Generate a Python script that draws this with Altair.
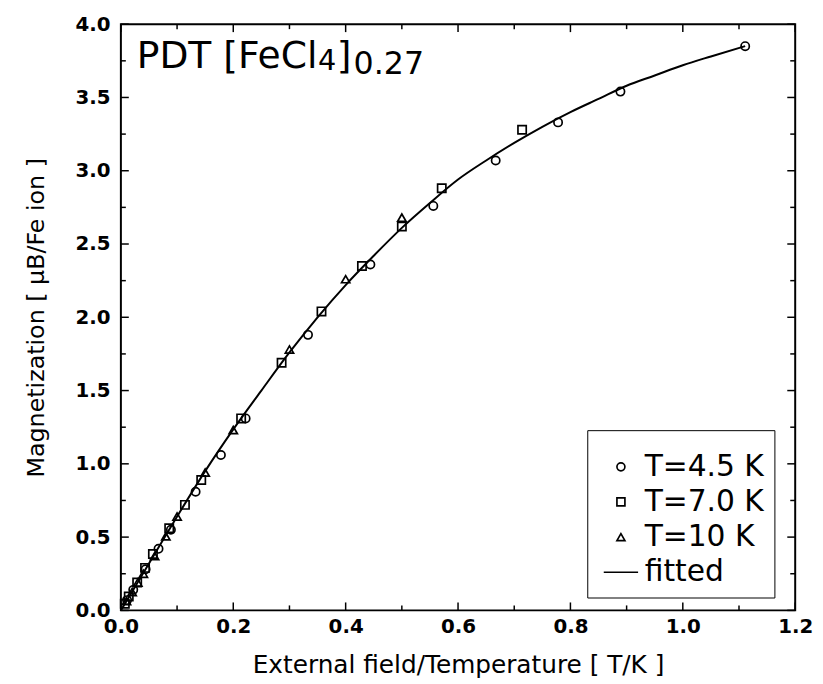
import altair as alt
import pandas as pd

# ---------------- data ----------------
series_names = ["T=4.5 K", "T=7.0 K", "T=10 K", "fitted"]

t45_x = [0.011, 0.022, 0.044, 0.067, 0.089, 0.133, 0.178, 0.222, 0.333, 0.444, 0.556, 0.667, 0.778, 0.889, 1.111]
t45_y = [0.07, 0.14, 0.28, 0.42, 0.55, 0.81, 1.06, 1.31, 1.88, 2.36, 2.76, 3.07, 3.33, 3.54, 3.85]

t70_x = [0.007, 0.014, 0.029, 0.043, 0.057, 0.086, 0.114, 0.143, 0.214, 0.286, 0.357, 0.429, 0.500, 0.571, 0.714]
t70_y = [0.045, 0.095, 0.19, 0.29, 0.385, 0.56, 0.72, 0.89, 1.31, 1.69, 2.04, 2.35, 2.62, 2.88, 3.28]

t10_x = [0.01, 0.02, 0.03, 0.04, 0.06, 0.08, 0.10, 0.15, 0.20, 0.30, 0.40, 0.50]
t10_y = [0.063, 0.125, 0.19, 0.25, 0.37, 0.505, 0.64, 0.94, 1.23, 1.78, 2.26, 2.68]

fit_x = [0.0, 0.05, 0.10, 0.15, 0.20, 0.25, 0.30, 0.35, 0.40, 0.45, 0.50, 0.55,
         0.60, 0.65, 0.70, 0.75, 0.80, 0.85, 0.90, 0.95, 1.00, 1.05, 1.111]
fit_y = [0.0, 0.32, 0.64, 0.95, 1.235, 1.50, 1.76, 2.00, 2.22, 2.42, 2.61, 2.78,
         2.94, 3.07, 3.19, 3.30, 3.40, 3.49, 3.58, 3.65, 3.72, 3.78, 3.85]

x_major = [0.0, 0.2, 0.4, 0.6, 0.8, 1.0, 1.2]
x_minor = [0.1, 0.3, 0.5, 0.7, 0.9, 1.1]
y_major = [0.0, 0.5, 1.0, 1.5, 2.0, 2.5, 3.0, 3.5, 4.0]
y_minor = [0.25, 0.75, 1.25, 1.75, 2.25, 2.75, 3.25, 3.75]

label_parts = ["PDT [FeCl", "4", "]", "0.27"]

# ---------------- build tables ----------------
pts = pd.DataFrame({
    "x": t45_x + t70_x + t10_x,
    "y": t45_y + t70_y + t10_y,
    "series": [series_names[0]] * len(t45_x) + [series_names[1]] * len(t70_x) + [series_names[2]] * len(t10_x),
})
curve = pd.DataFrame({"x": fit_x, "y": fit_y})

W, H = 681, 592
FONT = "DejaVu Sans"
xs = alt.Scale(domain=[0, 1.2], nice=False, zero=False)
ys = alt.Scale(domain=[0, 4.0], nice=False, zero=False)

XT = "External field/Temperature [ T/K ]"
YT = "Magnetization [ μB/Fe ion ]"

xaxis = alt.Axis(values=x_major, format=".1f", title=XT,
                 ticks=False, tickSize=0, domain=False, grid=False, labelFlush=False,
                 labelOverlap=False, labelFont=FONT, labelFontSize=20, labelFontWeight="bold",
                 labelColor="black", labelPadding=6, titleFont=FONT, titleFontSize=25,
                 titleFontWeight="normal", titleColor="black", titlePadding=17)
yaxis = alt.Axis(values=y_major, format=".1f", title=YT,
                 ticks=False, tickSize=0, domain=False, grid=False, labelFlush=False,
                 labelOverlap=False, labelFont=FONT, labelFontSize=20, labelFontWeight="bold",
                 labelColor="black", labelPadding=11, titleFont=FONT, titleFontSize=24,
                 titleFontWeight="normal", titleColor="black", titlePadding=27)

line = alt.Chart(curve).mark_line(color="black", strokeWidth=2, interpolate="monotone").encode(
    x=alt.X("x:Q", scale=xs, axis=xaxis, title=XT),
    y=alt.Y("y:Q", scale=ys, axis=yaxis, title=YT),
)

legend = alt.Legend(orient="none", legendX=471, legendY=410, title=" ", titleFontSize=8,
                    titlePadding=4, strokeColor="black", padding=10, fillColor="white",
                    labelFont=FONT, labelFontSize=30, labelColor="black", labelOffset=9,
                    symbolSize=65, symbolOffset=9, symbolStrokeColor="black",
                    symbolStrokeWidth=1.7, rowPadding=5.5, labelLimit=300)

points = alt.Chart(pts).mark_point(filled=False, color="black", strokeWidth=1.7, size=70, opacity=1).encode(
    x=alt.X("x:Q", scale=xs, axis=xaxis, title=XT),
    y=alt.Y("y:Q", scale=ys, axis=yaxis, title=YT),
    shape=alt.Shape("series:N", scale=alt.Scale(domain=series_names,
                    range=["circle", "square", "triangle-up", "M-4.3,0H4.3"]), legend=legend),
)


def xticks(vals, length):
    d = pd.DataFrame({"v": vals})
    base = alt.Chart(d).mark_rule(color="black", strokeWidth=1.5)
    enc = alt.X("v:Q", scale=xs, axis=xaxis, title=XT)
    bot = base.encode(x=enc, y=alt.value(H), y2=alt.value(H - length))
    top = base.encode(x=enc, y=alt.value(0), y2=alt.value(length))
    return [bot, top]


def yticks(vals, length):
    d = pd.DataFrame({"v": vals})
    base = alt.Chart(d).mark_rule(color="black", strokeWidth=1.5)
    enc = alt.Y("v:Q", scale=ys, axis=yaxis, title=YT)
    left = base.encode(y=enc, x=alt.value(0), x2=alt.value(length))
    right = base.encode(y=enc, x=alt.value(W), x2=alt.value(W - length))
    return [left, right]


tick_layers = xticks(x_major, 8) + xticks(x_minor, 5) + yticks(y_major, 8) + yticks(y_minor, 5)

one = pd.DataFrame({"k": [0]})
t1 = alt.Chart(one).mark_text(text=label_parts[0], font=FONT, fontSize=38, align="left",
                              baseline="alphabetic", color="black").encode(x=alt.value(16), y=alt.value(44))
t2 = alt.Chart(one).mark_text(text=label_parts[1], font=FONT, fontSize=29, align="left",
                              baseline="alphabetic", color="black").encode(x=alt.value(199), y=alt.value(46))
t3 = alt.Chart(one).mark_text(text=label_parts[2], font=FONT, fontSize=38, align="left",
                              baseline="alphabetic", color="black").encode(x=alt.value(218), y=alt.value(44))
t4 = alt.Chart(one).mark_text(text=label_parts[3], font=FONT, fontSize=32, align="left",
                              baseline="alphabetic", color="black").encode(x=alt.value(235), y=alt.value(50))

chart = alt.layer(line, points, *tick_layers, t1, t2, t3, t4).properties(
    width=W, height=H,
    padding={"left": 114, "top": 13, "right": 20, "bottom": 71},
    autosize=alt.AutoSizeParams(type="none"),
    background="white",
).configure_view(stroke="black", strokeWidth=2)

chart.save("out.html", embed_options={"renderer": "svg", "actions": False})
